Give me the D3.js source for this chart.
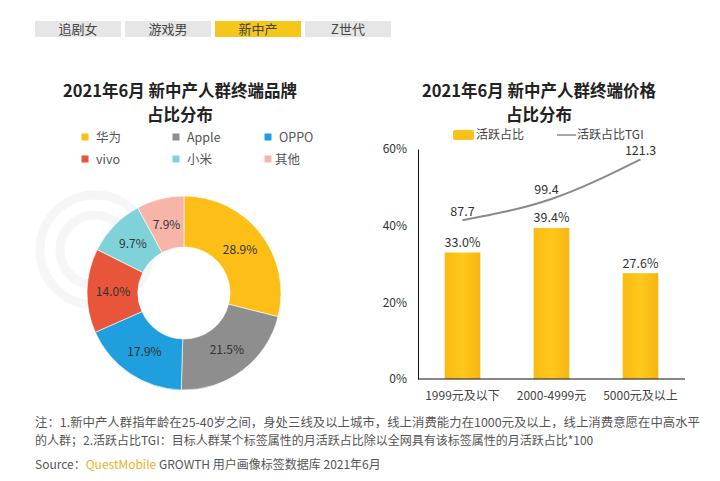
<!DOCTYPE html>
<html><head><meta charset="utf-8">
<script src="https://cdn.jsdelivr.net/npm/d3@7"></script>
<style>body{margin:0;background:#fff}svg{display:block}</style>
</head><body>
<svg id="c" width="720" height="481"></svg>
<script>
const tabs = ["追剧女","游戏男","新中产","Z世代"];
const activeTab = "新中产";
const brands = ["华为","Apple","OPPO","vivo","小米","其他"];
const brandShare = [28.9,21.5,17.9,14.0,9.7,7.9];
const brandColors = ["#FDBF17","#8E8E8E","#1F9FDD","#E8553B","#80D2DA","#F7B5AA"];
const priceCats = ["1999元及以下","2000-4999元","5000元及以上"];
const activeShare = [33.0,39.4,27.6];
const tgi = [87.7,99.4,121.3];
const yTicks = [0,20,40,60];
const title1 = ["2021年6月 新中产人群终端品牌","占比分布"];
const title2 = ["2021年6月 新中产人群终端价格","占比分布"];
const note1 = "注：1.新中产人群指年龄在25-40岁之间，身处三线及以上城市，线上消费能力在1000元及以上，线上消费意愿在中高水平";
const note2 = "的人群；2.活跃占比TGI：目标人群某个标签属性的月活跃占比除以全网具有该标签属性的月活跃占比*100";

const svg = d3.select("#c");
const F = "'Noto Sans CJK SC','Noto Sans',sans-serif";

// faint watermark logo
const wm = svg.append("g").attr("fill","none").attr("stroke","#f6f6f6").attr("stroke-width",9);
wm.append("circle").attr("cx",95).attr("cy",250).attr("r",55);
wm.append("circle").attr("cx",95).attr("cy",250).attr("r",35);

// tabs
const tabX = d3.scaleBand().domain(tabs).range([35,391]).paddingInner(0.045);
const tg = svg.append("g");
tg.selectAll("rect").data(tabs).join("rect")
  .attr("x",d=>tabX(d)).attr("y",21).attr("width",tabX.bandwidth()).attr("height",16)
  .attr("fill",d=>d===activeTab?"#F6C61A":"#E6E6E6");
tg.selectAll("text").data(tabs).join("text")
  .attr("x",d=>tabX(d)+tabX.bandwidth()/2).attr("y",29).attr("dy","0.36em")
  .attr("text-anchor","middle").attr("font-family",F).attr("font-size",13).attr("fill","#444").text(d=>d);

// titles
function title(lines,cx){
  svg.selectAll(null).data(lines).join("text")
    .attr("x",cx).attr("y",(d,i)=>91+i*24).attr("dy","0.36em").attr("text-anchor","middle")
    .attr("font-family",F).attr("font-weight","bold").attr("font-size",16.5).attr("fill","#222").text(d=>d);
}
title(title1,180);
title(title2,539);

// legend left
const lg = svg.append("g");
const legCols = [85,176,268], legRows=[137,159];
brands.forEach((b,i)=>{
  const x=legCols[i%3], y=legRows[Math.floor(i/3)];
  lg.append("rect").attr("x",x-3.5).attr("y",y-3.5).attr("width",7).attr("height",7).attr("fill",brandColors[i]);
  lg.append("text").attr("x",x+(i===5?7:11)).attr("y",y).attr("dy","0.36em").attr("font-family",F)
    .attr("font-size",12.5).attr("fill","#555").text(b);
});

// donut
const cx=184, cy=293, ro=97, ri=46;
const pie = d3.pie().sort(null).value(d=>d)(brandShare);
const arc = d3.arc().innerRadius(ri).outerRadius(ro);
const lab = d3.arc().innerRadius(71).outerRadius(71);
const dg = svg.append("g").attr("transform",`translate(${cx},${cy})`);
dg.selectAll("path").data(pie).join("path").attr("d",arc).attr("fill",(d,i)=>brandColors[i])
  .attr("stroke","#fff").attr("stroke-width",0.6);
dg.selectAll("text").data(pie).join("text")
  .attr("transform",d=>`translate(${lab.centroid(d)})`).attr("dy","0.36em").attr("text-anchor","middle")
  .attr("font-family",F).attr("font-size",12).attr("fill","#333").text(d=>d.data.toFixed(1)+"%");

// bar chart
const x = d3.scaleBand().domain(priceCats).range([418,685]).paddingInner(0.6).paddingOuter(0.3);
const y = d3.scaleLinear().domain([0,60]).range([379,149]);
const y2 = d3.scaleLinear().domain([0,127]).range([379,149]);
const bg = svg.append("g");
const grad = svg.append("defs").append("linearGradient").attr("id","bar").attr("x1",0).attr("x2",1);
grad.append("stop").attr("offset",0).attr("stop-color","#F9BA12");
grad.append("stop").attr("offset",0.5).attr("stop-color","#FFC81C");
grad.append("stop").attr("offset",1).attr("stop-color","#F7B512");
bg.selectAll("rect").data(activeShare).join("rect")
  .attr("x",(d,i)=>x(priceCats[i])).attr("width",x.bandwidth())
  .attr("y",d=>y(d)).attr("height",d=>y(0)-y(d)).attr("fill","url(#bar)");
bg.selectAll("text.v").data(activeShare).join("text").attr("class","v")
  .attr("x",(d,i)=>x(priceCats[i])+x.bandwidth()/2).attr("y",d=>y(d)-10).attr("dy","0.36em")
  .attr("text-anchor","middle").attr("font-family",F).attr("font-size",12.5).attr("fill","#333")
  .text(d=>d.toFixed(1)+"%");

const yAxis = svg.append("g").attr("transform","translate(418,0)")
  .call(d3.axisLeft(y).tickValues(yTicks).tickSize(0).tickPadding(11).tickFormat(d=>d+"%"));
yAxis.select(".domain").attr("stroke","#111");
yAxis.selectAll("text").attr("font-family",F).attr("font-size",12).attr("fill","#333");
const xAxis = svg.append("g").attr("transform","translate(0,379)")
  .call(d3.axisBottom(x).tickSize(0).tickPadding(12));
xAxis.select(".domain").attr("stroke","#111").attr("d","M418,0H685");
xAxis.selectAll("text").attr("font-family",F).attr("font-size",12).attr("fill","#444");

const line = d3.line().x((d,i)=>x(priceCats[i])+x.bandwidth()/2).y(d=>y2(d)).curve(d3.curveMonotoneX);
svg.append("path").datum(tgi).attr("d",line).attr("fill","none").attr("stroke","#8a8a8a").attr("stroke-width",2);
svg.selectAll("text.t").data(tgi).join("text").attr("class","t")
  .attr("x",(d,i)=>x(priceCats[i])+x.bandwidth()/2+(i===1?-5:0)).attr("y",d=>y2(d)-9).attr("dy","0.36em")
  .attr("text-anchor","middle").attr("font-family",F).attr("font-size",12.5).attr("fill","#333").text(d=>d.toFixed(1));

// right legend
svg.append("rect").attr("x",453).attr("y",130).attr("width",21).attr("height",10).attr("rx",2).attr("fill","#F8C21A");
svg.append("text").attr("x",476).attr("y",135).attr("dy","0.36em").attr("font-family",F).attr("font-size",12).attr("fill","#444").text("活跃占比");
svg.append("line").attr("x1",557).attr("x2",576).attr("y1",135).attr("y2",135).attr("stroke","#8a8a8a").attr("stroke-width",1.5);
svg.append("text").attr("x",577).attr("y",135).attr("dy","0.36em").attr("font-family",F).attr("font-size",12).attr("fill","#444").text("活跃占比TGI");

// notes
svg.append("text").attr("x",35).attr("y",423).attr("dy","0.36em").attr("font-family",F).attr("font-size",12)
  .attr("fill","#555").attr("textLength",665).attr("lengthAdjust","spacingAndGlyphs").text(note1);
svg.append("text").attr("x",35).attr("y",441).attr("dy","0.36em").attr("font-family",F).attr("font-size",12)
  .attr("fill","#555").text(note2);
const src = svg.append("text").attr("x",35).attr("y",465).attr("dy","0.36em").attr("font-family",F).attr("font-size",12).attr("fill","#555");
src.append("tspan").text("Source：");
src.append("tspan").attr("fill","#E9B21E").text("QuestMobile");
src.append("tspan").text(" GROWTH 用户画像标签数据库 2021年6月");
</script>
</body></html>
